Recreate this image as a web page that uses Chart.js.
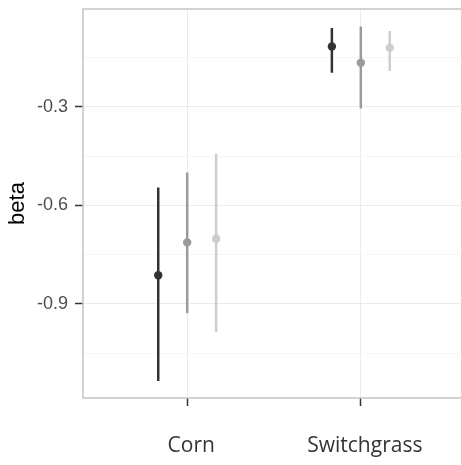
<!DOCTYPE html>
<html lang="en">
<head>
<meta charset="UTF-8">
<title>beta</title>
<script src="https://cdn.jsdelivr.net/npm/chart.js@4"></script>
<style>
  html, body { margin: 0; padding: 0; background: #fff; overflow: hidden; }
  #wrap { width: 470px; height: 465px; }
</style>
</head>
<body>
<div id="wrap"><canvas id="chart"></canvas></div>
<script>
// Data
const categories = ["Corn", "Switchgrass"];
const colors = ["#333333", "#9a9a9a", "#cdcdcd"];
const estimate = [[-0.813, -0.116], [-0.713, -0.166], [-0.702, -0.120]];
const lower = [[-1.135, -0.196], [-0.929, -0.305], [-0.987, -0.191]];
const upper = [[-0.546, -0.060], [-0.500, -0.055], [-0.443, -0.069]];
const yTicks = [-0.9, -0.6, -0.3];
const yGrid = [-1.05, -0.9, -0.75, -0.6, -0.45, -0.3, -0.15];
const dodge = [-1 / 6, 0, 1 / 6];

const datasets = [];
colors.forEach((col, s) => {
    // vertical range lines
    datasets.push({
        data: categories.flatMap((c, i) => [
            { x: i + 1 + dodge[s], y: lower[s][i] },
            { x: i + 1 + dodge[s], y: upper[s][i] },
            { x: i + 1 + dodge[s], y: null }
        ]),
        showLine: true,
        spanGaps: false,
        borderColor: col,
        borderWidth: 2.5,
        pointRadius: 0
    });
    // point estimates
    datasets.push({
        data: categories.map((c, i) => ({ x: i + 1 + dodge[s], y: estimate[s][i] })),
        showLine: false,
        backgroundColor: col,
        borderWidth: 0,
        pointRadius: 4.2
    });
});

const isMajor = v => yTicks.some(t => Math.abs(t - v) < 1e-9);

// panel border like theme_bw
const panelBorder = {
    id: "panelBorder",
    afterDatasetsDraw(chart) {
        const a = chart.chartArea, ctx = chart.ctx;
        ctx.save();
        ctx.strokeStyle = "#c4c4c4";
        ctx.lineWidth = 1.5;
        ctx.strokeRect(a.left, a.top, a.right - a.left, a.bottom - a.top);
        ctx.restore();
    }
};

new Chart(document.getElementById("chart"), {
    type: "scatter",
    data: { datasets },
    options: {
        responsive: true,
        maintainAspectRatio: false,
        animation: false,
        layout: { padding: { top: 9, right: 5, left: 0, bottom: 0 } },
        plugins: { legend: { display: false }, tooltip: { enabled: false } },
        scales: {
            x: {
                type: "linear",
                min: 0.4,
                max: 2.6,
                afterBuildTicks: s => { s.ticks = categories.map((c, i) => ({ value: i + 1 })); },
                afterFit: s => { s.height = 67; s.paddingLeft = 0; s.paddingRight = 0; },
                ticks: {
                    callback: v => categories[v - 1],
                    font: { family: "Open Sans", size: 21 },
                    color: "#333333",
                    padding: 27,
                    labelOffset: 4,
                    autoSkip: false,
                    maxRotation: 0
                },
                grid: { color: "#ebebeb", tickColor: "#333333", tickLength: 8, tickWidth: 1.5 },
                border: { display: false }
            },
            y: {
                min: -1.187,
                max: -0.002,
                afterBuildTicks: s => { s.ticks = yGrid.map(v => ({ value: v })); },
                afterFit: s => { s.width = 83; s.paddingTop = 0; s.paddingBottom = 0; },
                ticks: {
                    callback: v => isMajor(v) ? v.toFixed(1) : "",
                    font: { family: "Liberation Sans", size: 18 },
                    color: "#4d4d4d",
                    padding: 7,
                    autoSkip: false
                },
                grid: {
                    color: c => isMajor(c.tick.value) ? "#ebebeb" : "#f5f5f5",
                    tickColor: c => isMajor(c.tick.value) ? "#333333" : "rgba(0,0,0,0)",
                    tickLength: 8,
                    tickWidth: 1.5
                },
                border: { display: false },
                title: {
                    display: true,
                    text: "beta",
                    font: { family: "Liberation Sans", size: 22 },
                    color: "#000000",
                    padding: { top: 5, bottom: 0 }
                }
            }
        }
    },
    plugins: [panelBorder]
});
</script>
</body>
</html>
